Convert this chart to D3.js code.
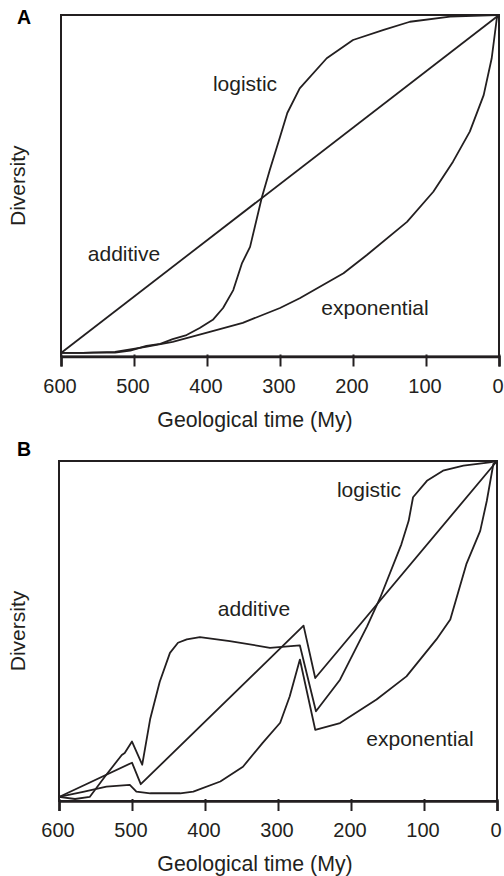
<!DOCTYPE html>
<html><head><meta charset="utf-8">
<script src="https://cdn.jsdelivr.net/npm/d3@7/dist/d3.min.js"></script>
<style>body{margin:0;background:#fff}svg{display:block}</style>
</head><body>
<script>
// ---- data ----
const xTicks = [600, 500, 400, 300, 200, 100, 0];
const panelLetters = ["A", "B"];
const xTitle = "Geological time (My)";
const yTitle = "Diversity";

// Panel A
const timeAddA = [600, 0];
const divAddA  = [0, 100];
const timeLogA = [600, 570, 556, 526, 505, 483, 464, 447, 428, 410, 392, 378, 364, 352, 341, 325, 314, 300, 290, 273, 236, 200, 158, 122, 67, 3, 0];
const divLogA  = [0, 0, 0.1, 0.1, 0.7, 2.1, 2.7, 4.1, 5.3, 7.4, 9.8, 13.3, 18.6, 26.6, 31.4, 45.9, 54.1, 63.9, 71.0, 78.3, 87.2, 92.6, 95.6, 98.0, 99.5, 100, 100];
const timeExpA = [600, 570, 526, 484, 447, 400, 351, 300, 273, 213, 181, 126, 90, 63, 40, 21, 10, 3, 0];
const divExpA  = [0, 0, 0.3, 1.8, 3.3, 6.0, 8.9, 13.3, 16.2, 23.6, 29.0, 38.8, 47.7, 56.6, 65.5, 76.3, 87.2, 99, 100];

// Panel B
const timeAddB = [600, 500, 488, 265, 249, 0];
const divAddB  = [0, 10.2, 3.8, 51.0, 35.4, 100];
const timeLogB = [600, 578, 558, 537, 514, 510, 500, 486, 475, 462, 448, 437, 425, 407, 366, 311, 270, 248, 215, 178, 160, 131, 121, 115, 96, 74, 46, 10, 0];
const divLogB  = [0, -0.6, 0, 6.1, 12.5, 13.1, 16.5, 9.6, 23.3, 34.3, 42.9, 45.9, 46.9, 47.6, 46.4, 44.4, 45.1, 25.5, 34.9, 50.8, 59.3, 75.2, 82.2, 89.2, 94.1, 97.1, 98.6, 99.6, 100];
const timeExpB = [600, 567, 535, 503, 494, 475, 434, 416, 379, 348, 321, 297, 284, 270, 249, 215, 165, 124, 83, 64, 42, 23, 14, 5, 0];
const divExpB  = [0, 1.5, 3.1, 3.6, 1.6, 1.1, 1.1, 1.6, 4.6, 9.0, 16.1, 22.1, 29.9, 40.9, 20.0, 22.0, 29.0, 35.9, 46.9, 52.8, 69.3, 79.2, 88.1, 99.1, 100];

const curveLabels = ["logistic", "additive", "exponential"];

// ---- drawing ----
const W = 504, H = 876;
const ink = "#231f20";
const font = "'Liberation Sans', Arial, Helvetica, sans-serif";
const svg = d3.select("body").append("svg").attr("width", W).attr("height", H);

function zip(t, v) { return t.map((d, i) => [d, v[i]]); }

const panels = [
  { letter: panelLetters[0], left: 61, right: 499, top: 15, axis: 356.5, ymin: -1.05,
    series: [zip(timeAddA, divAddA), zip(timeLogA, divLogA), zip(timeExpA, divExpA)],
    labels: [[245, 91], [124, 261], [375, 315]], letterY: 24 },
  { letter: panelLetters[1], left: 59, right: 497, top: 461, axis: 801, ymin: -1.2,
    series: [zip(timeAddB, divAddB), zip(timeLogB, divLogB), zip(timeExpB, divExpB)],
    labels: [[369, 497], [254, 616], [420, 746]], letterY: 456 }
];

panels.forEach(p => {
  const g = svg.append("g");
  const x = d3.scaleLinear().domain([600, 0]).range([p.left, p.right]);
  const y = d3.scaleLinear().domain([p.ymin, 100]).range([p.axis, p.top]);

  // frame
  g.append("rect").attr("x", p.left).attr("y", p.top)
    .attr("width", p.right - p.left).attr("height", p.axis - p.top)
    .attr("fill", "none").attr("stroke", ink).attr("stroke-width", 2);

  // x axis
  const ax = g.append("g").attr("transform", `translate(0,${p.axis})`)
    .call(d3.axisBottom(x).tickValues(xTicks).tickSize(10).tickPadding(12).tickFormat(d3.format("d")));
  ax.select(".domain").attr("stroke", ink).attr("stroke-width", 2.5);
  ax.selectAll(".tick line").attr("stroke", ink).attr("stroke-width", 2).attr("y1", -2);
  ax.selectAll(".tick text").attr("fill", ink).attr("dx", -1.5)
    .style("font-family", font).style("font-size", "20px");

  // axis titles
  g.append("text").attr("x", 255).attr("y", p.axis + 70)
    .attr("text-anchor", "middle").attr("fill", ink)
    .style("font-family", font).style("font-size", "21.3px").text(xTitle);
  g.append("text").attr("transform", `translate(25,${(p.top + p.axis) / 2}) rotate(-90)`)
    .attr("text-anchor", "middle").attr("fill", ink)
    .style("font-family", font).style("font-size", "21px").text(yTitle);

  // panel letter
  g.append("text").attr("x", 17).attr("y", p.letterY).attr("fill", "#000")
    .style("font-family", font).style("font-size", "19.5px").style("font-weight", "bold").text(p.letter);

  // curves
  const line = d3.line().x(d => x(d[0])).y(d => y(d[1]));
  p.series.forEach(s => {
    g.append("path").attr("d", line(s)).attr("fill", "none")
      .attr("stroke", ink).attr("stroke-width", 1.8).attr("stroke-linejoin", "round");
  });

  // curve labels: logistic, additive, exponential
  curveLabels.forEach((t, i) => {
    g.append("text").attr("x", p.labels[i][0]).attr("y", p.labels[i][1])
      .attr("text-anchor", "middle").attr("fill", ink)
      .style("font-family", font).style("font-size", "21px").text(t);
  });
});
</script>
</body></html>
